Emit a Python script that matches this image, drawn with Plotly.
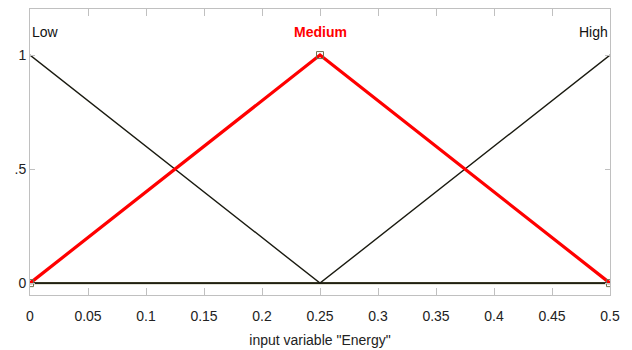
import plotly.graph_objects as go

# Membership functions of input variable "Energy"
x_pts = [0, 0.25, 0.5]
low_mu = [1, 0, 0]
medium_mu = [0, 1, 0]
high_mu = [0, 0, 1]
mf_names = ["Low", "Medium", "High"]
x_ticks = [0, 0.05, 0.1, 0.15, 0.2, 0.25, 0.3, 0.35, 0.4, 0.45, 0.5]
x_tick_text = ["0", "0.05", "0.1", "0.15", "0.2", "0.25", "0.3", "0.35", "0.4", "0.45", "0.5"]
y_ticks = [0, 0.5, 1]
y_tick_text = ["0", ".5", "1"]

FONT = "Liberation Sans Narrow, Arial Narrow, Liberation Sans, sans-serif"

fig = go.Figure()

# baseline (zero segments of all functions overlap here)
fig.add_trace(go.Scatter(x=[x_pts[0], x_pts[-1]], y=[0, 0], mode="lines",
                         line=dict(color="#8a8a5a", width=2.4), hoverinfo="skip"))
fig.add_trace(go.Scatter(x=[x_pts[0], x_pts[-1]], y=[0, 0], mode="lines",
                         line=dict(color="#1a1a10", width=1.1), hoverinfo="skip"))

fig.add_trace(go.Scatter(x=x_pts, y=low_mu, mode="lines",
                         line=dict(color="#1a1a10", width=1.4)))
fig.add_trace(go.Scatter(x=x_pts, y=high_mu, mode="lines",
                         line=dict(color="#1a1a10", width=1.4)))
fig.add_trace(go.Scatter(x=x_pts, y=medium_mu, mode="lines+markers",
                         line=dict(color="#ff0000", width=3.2),
                         marker=dict(symbol="square-open", size=7,
                                     color="#707050", line=dict(width=1))))

# function names above the peaks
anchors = ["left", "center", "right"]
colors = ["#111111", "#ff0000", "#111111"]
for name, px, anc, col in zip(mf_names, x_pts, anchors, colors):
    fig.add_annotation(x=px, y=1.1, text=("<b>%s</b>" % name) if col == "#ff0000" else name,
                       showarrow=False, xanchor=anc, yanchor="middle",
                       font=dict(family=FONT, size=14, color=col))

fig.update_layout(
    width=632, height=350,
    margin=dict(l=30, r=22, t=9, b=55),
    plot_bgcolor="white", paper_bgcolor="white",
    showlegend=False,
    font=dict(family=FONT, size=14, color="#222222"),
)
fig.update_xaxes(
    range=[0, 0.5], tickvals=x_ticks, ticktext=x_tick_text,
    ticks="inside", ticklen=7, tickcolor="#c0c0c0", tickwidth=1,
    showline=True, linecolor="#c0c0c0", linewidth=1, mirror="allticks",
    showgrid=False, zeroline=False, ticklabelstandoff=8, automargin=False,
    title=dict(text='input variable "Energy"', standoff=12, font=dict(size=14)),
    tickfont=dict(size=14),
)
fig.update_yaxes(
    range=[-0.052, 1.202], tickvals=y_ticks, ticktext=y_tick_text,
    ticks="inside", ticklen=5, tickcolor="#c0c0c0", tickwidth=1,
    showline=True, linecolor="#c0c0c0", linewidth=1, mirror="allticks",
    showgrid=False, zeroline=False, tickfont=dict(size=14), automargin=False,
)

fig.write_html("out.html")
